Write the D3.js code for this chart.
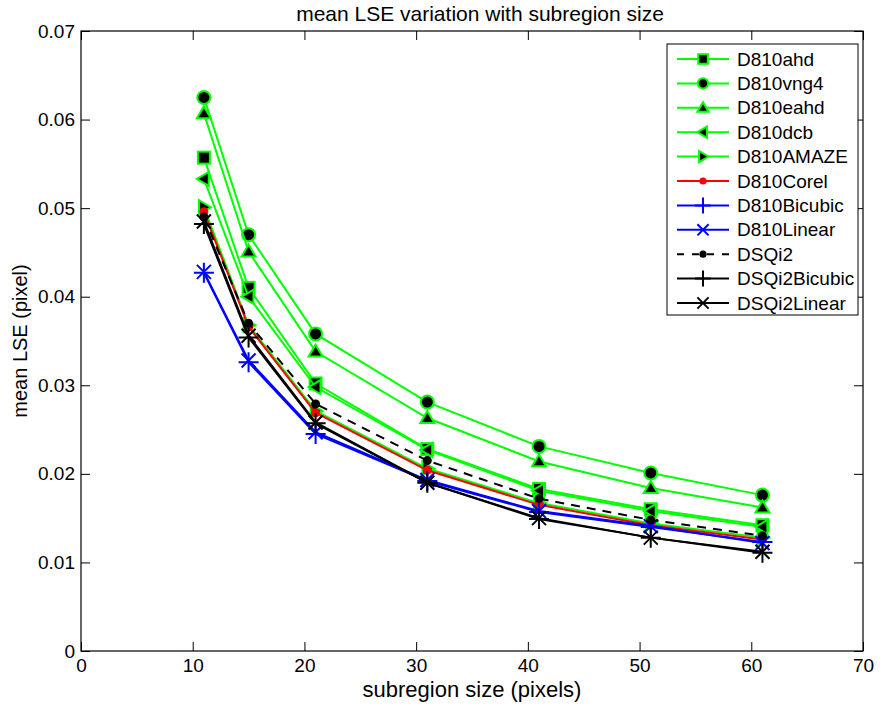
<!DOCTYPE html>
<html>
<head>
<meta charset="utf-8">
<script src="https://cdn.jsdelivr.net/npm/d3@7"></script>
<style>
  html, body { margin: 0; padding: 0; background: #fff; }
  svg { display: block; font-family: "Liberation Sans", Arial, Helvetica, sans-serif; }
</style>
</head>
<body>
<svg id="chart" width="882" height="708"></svg>
<script>
// ---- data ----
const sizes = [11, 15, 21, 31, 41, 51, 61];
const D810ahd     = [0.0557, 0.0410, 0.0302, 0.0228, 0.0183, 0.0160, 0.0142];
const D810vng4    = [0.0625, 0.0470, 0.0358, 0.0281, 0.0231, 0.0201, 0.0176];
const D810eahd    = [0.0607, 0.0451, 0.0338, 0.0263, 0.0214, 0.0184, 0.0162];
const D810dcb     = [0.0533, 0.0400, 0.0298, 0.0227, 0.0181, 0.0158, 0.0140];
const D810AMAZE   = [0.0501, 0.0368, 0.0271, 0.0206, 0.0167, 0.0144, 0.0128];
const D810Corel   = [0.0496, 0.0366, 0.0269, 0.0204, 0.0165, 0.0142, 0.0126];
const D810Bicubic = [0.0427, 0.0326, 0.0245, 0.0192, 0.0157, 0.0140, 0.0123];
const D810Linear  = [0.0428, 0.0328, 0.0247, 0.0193, 0.0158, 0.0141, 0.0122];
const DSQi2       = [0.0490, 0.0370, 0.0279, 0.0215, 0.0172, 0.0148, 0.0130];
const DSQi2Bicubic= [0.0482, 0.0354, 0.0257, 0.0190, 0.0149, 0.0128, 0.0111];
const DSQi2Linear = [0.0485, 0.0356, 0.0258, 0.0190, 0.0150, 0.0128, 0.0112];
const xTicks = [0, 10, 20, 30, 40, 50, 60, 70];
const yTicks = [0, 0.01, 0.02, 0.03, 0.04, 0.05, 0.06, 0.07];
const yTickLabels = ["0", "0.01", "0.02", "0.03", "0.04", "0.05", "0.06", "0.07"];

const series = [
  {name: "D810ahd",      values: D810ahd,      color: "#00ff00", marker: "square",   dash: null},
  {name: "D810vng4",     values: D810vng4,     color: "#00ff00", marker: "circle",   dash: null},
  {name: "D810eahd",     values: D810eahd,     color: "#00ff00", marker: "triUp",    dash: null},
  {name: "D810dcb",      values: D810dcb,      color: "#00ff00", marker: "triLeft",  dash: null},
  {name: "D810AMAZE",    values: D810AMAZE,    color: "#00ff00", marker: "triRight", dash: null},
  {name: "D810Corel",    values: D810Corel,    color: "#ff0000", marker: "dot",      dash: null},
  {name: "D810Bicubic",  values: D810Bicubic,  color: "#0000ff", marker: "plus",     dash: null},
  {name: "D810Linear",   values: D810Linear,   color: "#0000ff", marker: "cross",    dash: null},
  {name: "DSQi2",        values: DSQi2,        color: "#000000", marker: "dot",      dash: "9,7"},
  {name: "DSQi2Bicubic", values: DSQi2Bicubic, color: "#000000", marker: "plus",     dash: null},
  {name: "DSQi2Linear",  values: DSQi2Linear,  color: "#000000", marker: "cross",    dash: null}
];

// ---- layout ----
const L = 81, R = 863, T = 31, B = 651;
const svg = d3.select("#chart");
const x = d3.scaleLinear().domain([0, 70]).range([L, R]);
const y = d3.scaleLinear().domain([0, 0.07]).range([B, T]);

// axes (ticks inward, MATLAB style)
const tickLen = 9;
const fontTick = 19;
const gx = svg.append("g").attr("transform", `translate(0,${B})`)
  .call(d3.axisBottom(x).tickValues(xTicks).tickSize(-tickLen).tickPadding(8).tickFormat(d3.format("d")));
const gy = svg.append("g").attr("transform", `translate(${L},0)`)
  .call(d3.axisLeft(y).tickValues(yTicks).tickSize(-tickLen).tickPadding(6).tickFormat((d, i) => yTickLabels[i]));
const gxt = svg.append("g").attr("transform", `translate(0,${T})`)
  .call(d3.axisTop(x).tickValues(xTicks).tickSize(-tickLen).tickFormat(""));
const gyr = svg.append("g").attr("transform", `translate(${R},0)`)
  .call(d3.axisRight(y).tickValues(yTicks).tickSize(-tickLen).tickFormat(""));
[gx, gy, gxt, gyr].forEach(g => {
  g.select(".domain").remove();
  g.selectAll(".tick line").attr("stroke", "#000").attr("stroke-width", 1);
  g.selectAll("text").attr("font-size", fontTick).attr("fill", "#000")
    .attr("font-family", "Liberation Sans, Arial, sans-serif");
});
svg.append("rect").attr("x", L).attr("y", T).attr("width", R - L).attr("height", B - T)
  .attr("fill", "none").attr("stroke", "#000").attr("stroke-width", 1.2);

// marker drawing
function drawMarker(g, type, color, cx, cy, k) {
  k = k || 1;
  const sw = 2;
  if (type === "square") {
    const h = 6 * k;
    g.append("rect").attr("x", cx - h).attr("y", cy - h).attr("width", 2 * h).attr("height", 2 * h)
      .attr("fill", "#000").attr("stroke", color).attr("stroke-width", sw);
  } else if (type === "circle") {
    g.append("circle").attr("cx", cx).attr("cy", cy).attr("r", 6.5 * k)
      .attr("fill", "#000").attr("stroke", color).attr("stroke-width", sw);
  } else if (type === "triUp" || type === "triLeft" || type === "triRight") {
    const s = 7 * k;
    let pts;
    if (type === "triUp") pts = [[cx, cy - s], [cx - s, cy + s * 0.7], [cx + s, cy + s * 0.7]];
    else if (type === "triLeft") pts = [[cx - s, cy], [cx + s * 0.7, cy - s], [cx + s * 0.7, cy + s]];
    else pts = [[cx + s, cy], [cx - s * 0.7, cy - s], [cx - s * 0.7, cy + s]];
    g.append("path").attr("d", "M" + pts.map(p => p.join(",")).join("L") + "Z")
      .attr("fill", "#000").attr("stroke", color).attr("stroke-width", sw).attr("stroke-linejoin", "miter");
  } else if (type === "dot") {
    g.append("circle").attr("cx", cx).attr("cy", cy).attr("r", 4.5 * k).attr("fill", color);
  } else if (type === "plus") {
    const s = 10 * k;
    g.append("path").attr("d", `M${cx - s},${cy}H${cx + s}M${cx},${cy - s}V${cy + s}`)
      .attr("stroke", color).attr("stroke-width", sw).attr("fill", "none");
  } else if (type === "cross") {
    const s = 7 * k;
    g.append("path").attr("d", `M${cx - s},${cy - s}L${cx + s},${cy + s}M${cx - s},${cy + s}L${cx + s},${cy - s}`)
      .attr("stroke", color).attr("stroke-width", sw).attr("fill", "none");
  }
}

// lines + markers
const line = d3.line().x(d => x(d[0])).y(d => y(d[1]));
series.forEach(s => {
  const g = svg.append("g");
  const pts = sizes.map((sz, i) => [sz, s.values[i]]);
  g.append("path").attr("d", line(pts)).attr("fill", "none")
    .attr("stroke", s.color).attr("stroke-width", 2)
    .attr("stroke-dasharray", s.dash);
  pts.forEach(p => drawMarker(g, s.marker, s.color, x(p[0]), y(p[1])));
});

// title and labels
svg.append("text").attr("x", (L + R) / 2 + 8).attr("y", 21).attr("text-anchor", "middle")
  .attr("font-size", 21).text("mean LSE variation with subregion size");
svg.append("text").attr("x", (L + R) / 2).attr("y", 697).attr("text-anchor", "middle")
  .attr("font-size", 22).text("subregion size (pixels)");
svg.append("text").attr("transform", `translate(27,${(T + B) / 2}) rotate(-90)`).attr("text-anchor", "middle")
  .attr("font-size", 20).text("mean LSE (pixel)");

// legend
const lx = 667, ly = 44, lw = 191, lh = 271;
const lg = svg.append("g");
lg.append("rect").attr("x", lx).attr("y", ly).attr("width", lw).attr("height", lh)
  .attr("fill", "#fff").attr("stroke", "#000").attr("stroke-width", 1);
series.forEach((s, i) => {
  const cy = 59 + i * 24.4;
  lg.append("line").attr("x1", 677).attr("x2", 729).attr("y1", cy).attr("y2", cy)
    .attr("stroke", s.color).attr("stroke-width", 2).attr("stroke-dasharray", s.dash ? "7,8" : null);
  drawMarker(lg, s.marker, s.color, 703, cy, 0.8);
  lg.append("text").attr("x", 737).attr("y", cy + 6.5).attr("font-size", 19).text(s.name);
});
</script>
</body>
</html>
